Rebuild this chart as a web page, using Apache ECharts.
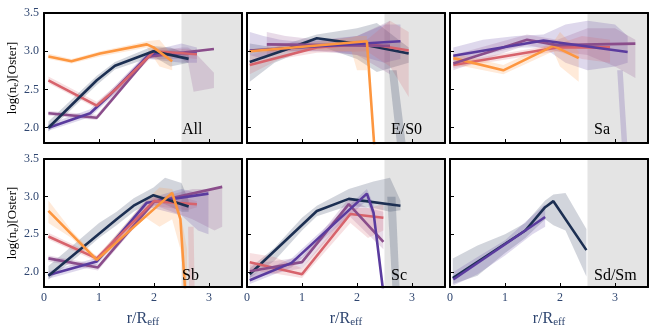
<!DOCTYPE html>
<html>
<head>
<meta charset="utf-8">
<script src="https://cdn.jsdelivr.net/npm/echarts@6/dist/echarts.min.js"></script>
<style>
  html, body { margin: 0; padding: 0; background: #fff; }
  #chart { width: 654px; height: 329px; }
</style>
</head>
<body>
<div id="chart"></div>
<script>
// panel names, in reading order
const panels = ['All', 'E/S0', 'Sa', 'Sb', 'Sc', 'Sd/Sm'];
const xTicks = [0, 1, 2, 3];
const yTicks = [2.0, 2.5, 3.0, 3.5];

// lines: [x, log ne]    bands: [x, low, high]
// --- All
const allNavy = [[0.08, 2.0], [0.96, 2.62], [1.29, 2.81], [1.99, 3.0], [2.63, 2.9]];
const allNavyBand = [[0.08, 1.95, 2.08], [0.96, 2.56, 2.68], [1.29, 2.76, 2.86], [1.99, 2.93, 3.07], [2.3, 2.8, 3.05], [2.63, 2.85, 2.96]];
const allOrange = [[0.08, 2.93], [0.5, 2.87], [1.02, 2.97], [1.87, 3.09], [1.99, 3.05], [2.33, 2.87]];
const allOrangeBand = [[0.08, 2.9, 2.97], [0.5, 2.84, 2.9], [1.02, 2.93, 3.0], [1.87, 3.05, 3.13], [2.1, 2.8, 3.15], [2.33, 2.75, 2.95]];
const allSalmon = [[0.08, 2.62], [0.96, 2.29], [1.3, 2.5], [2.0, 3.0], [2.78, 2.96]];
const allSalmonBand = [[0.08, 2.58, 2.67], [0.96, 2.25, 2.34], [1.3, 2.45, 2.55], [2.0, 2.95, 3.05], [2.78, 2.9, 3.02]];
const allPurple = [[0.08, 2.0], [0.84, 2.19], [1.2, 2.43], [1.9, 2.95], [2.1, 2.98], [2.78, 2.97]];
const allPurpleBand = [[0.08, 1.96, 2.05], [0.84, 2.14, 2.24], [1.2, 2.38, 2.48], [1.9, 2.9, 3.0], [2.5, 2.85, 3.1], [2.78, 2.85, 3.05]];
const allPlum = [[0.08, 2.19], [0.96, 2.13], [1.9, 2.93], [3.09, 3.03]];
const allPlumBand = [[0.08, 2.16, 2.22], [0.96, 2.1, 2.17], [1.9, 2.9, 2.97], [2.5, 2.9, 3.05], [2.62, 2.85, 3.05], [2.72, 2.47, 3.0], [3.09, 2.52, 2.72]];
// --- E/S0
const esNavy = [[0.05, 2.86], [0.7, 3.02], [1.27, 3.17], [2.18, 3.08], [2.94, 2.97]];
const esNavyBand = [[0.05, 2.6, 3.1], [0.5, 2.85, 3.05], [1.27, 3.08, 3.22], [2.0, 2.9, 3.3], [2.36, 2.73, 3.37], [2.94, 2.85, 3.05]];
const esNavyStreak = [[2.58, 2.75], [2.72, 2.75], [2.9, 1.7], [2.74, 1.7]];
const esOrange = [[0.05, 3.0], [2.18, 3.13], [2.33, 1.6]];
const esOrangeBand = [[0.05, 2.97, 3.03], [1.0, 3.02, 3.1], [1.9, 3.0, 3.18], [2.0, 2.75, 3.2], [2.18, 2.75, 3.2]];
const esSalmon = [[0.05, 2.82], [1.27, 3.05], [2.18, 3.1], [2.94, 3.01]];
const esSalmonBand = [[0.05, 2.7, 2.95], [0.6, 2.9, 3.05], [1.27, 2.98, 3.1], [2.18, 3.0, 3.15], [2.6, 2.8, 3.4], [2.94, 2.4, 3.25]];
const esPurple = [[0.05, 3.01], [2.79, 3.13]];
const esPurpleBand = [[0.05, 2.95, 3.25], [0.3, 2.9, 3.2], [0.6, 3.0, 3.15], [1.0, 3.0, 3.12], [1.5, 3.0, 3.15], [2.0, 2.95, 3.2], [2.5, 2.85, 3.35], [2.79, 2.9, 3.35]];
const esPlum = [[0.36, 3.09], [1.5, 3.08], [2.6, 3.07]];
const esPlumBand = [[0.36, 2.95, 3.25], [0.7, 3.0, 3.2], [1.3, 3.0, 3.15], [2.0, 2.95, 3.2], [2.6, 2.7, 3.4]];
// --- Sa
const saPurple = [[0.06, 2.94], [1.7, 3.14], [3.23, 2.99]];
const saPurpleBand = [[0.06, 2.85, 3.05], [0.6, 2.95, 3.15], [1.2, 3.05, 3.2], [1.7, 3.05, 3.22], [2.1, 2.85, 3.35], [2.5, 2.75, 3.4], [3.0, 2.8, 3.35], [3.23, 2.85, 3.2]];
const saPurpleStreak = [[3.04, 2.75], [3.14, 2.75], [3.23, 1.7], [3.13, 1.7]];
const saPlum = [[0.06, 2.84], [1.4, 3.15], [1.95, 3.08], [3.37, 3.1]];
const saPlumBand = [[0.06, 2.75, 2.95], [1.4, 3.08, 3.22], [1.95, 3.0, 3.15], [2.5, 2.95, 3.3], [3.0, 2.8, 3.3], [3.37, 2.65, 3.15]];
const saSalmon = [[0.06, 2.82], [1.95, 3.05], [2.91, 3.05]];
const saSalmonBand = [[0.06, 2.78, 2.86], [1.95, 3.0, 3.09], [2.4, 2.9, 3.2], [2.91, 2.85, 3.15]];
const saOrange = [[0.06, 2.91], [0.97, 2.75], [1.88, 3.07], [2.34, 2.91]];
const saOrangeBand = [[0.06, 2.83, 2.97], [0.97, 2.7, 2.82], [1.88, 3.0, 3.12], [2.0, 2.8, 3.25], [2.34, 2.6, 3.0]];
// --- Sb
const sbNavy = [[0.08, 1.95], [1.32, 2.7], [1.63, 2.88], [1.99, 3.02], [2.63, 2.87]];
const sbNavyBand = [[0.08, 1.9, 2.08], [0.6, 2.2, 2.4], [1.0, 2.45, 2.65], [1.32, 2.62, 2.8], [1.63, 2.8, 2.98], [1.99, 2.95, 3.12], [2.2, 2.9, 3.25], [2.5, 2.8, 3.18], [2.63, 2.8, 2.95]];
const sbOrange = [[0.08, 2.81], [0.96, 2.16], [2.33, 3.05], [2.48, 2.7], [2.58, 1.6]];
const sbOrangeBand = [[0.08, 2.65, 2.95], [0.5, 2.45, 2.55], [0.96, 2.12, 2.2], [1.85, 2.72, 2.95], [2.1, 2.6, 3.12], [2.33, 2.7, 3.1], [2.48, 2.3, 2.8], [2.6, 1.6, 2.3]];
const sbSalmon = [[0.08, 2.47], [0.96, 2.18], [2.0, 2.94], [2.78, 2.9]];
const sbSalmonBand = [[0.08, 2.43, 2.52], [0.96, 2.14, 2.22], [2.0, 2.88, 3.0], [2.6, 2.82, 2.98], [2.78, 2.86, 2.94]];
const sbSalmonStreak = [[2.62, 2.6], [2.72, 2.6], [2.74, 1.7], [2.64, 1.7]];
const sbPurple = [[0.08, 1.96], [0.96, 2.14], [1.87, 2.92], [2.99, 3.04]];
const sbPurpleBand = [[0.08, 1.91, 2.01], [0.96, 2.09, 2.19], [1.87, 2.87, 2.97], [2.5, 2.75, 3.1], [2.8, 2.55, 3.05], [2.99, 2.5, 3.08]];
const sbPlum = [[0.08, 2.18], [0.98, 2.06], [2.0, 2.93], [3.24, 3.13]];
const sbPlumBand = [[0.08, 2.14, 2.22], [0.98, 2.02, 2.1], [2.0, 2.89, 2.97], [2.7, 2.7, 3.1], [3.1, 2.55, 3.1], [3.24, 2.6, 3.15]];
// --- Sc
const scNavy = [[0.05, 1.97], [1.27, 2.81], [1.85, 2.97], [2.79, 2.88]];
const scNavyBand = [[0.05, 1.92, 2.05], [0.5, 2.15, 2.32], [1.0, 2.55, 2.72], [1.27, 2.74, 2.88], [1.85, 2.88, 3.1], [2.3, 2.85, 3.2], [2.6, 2.8, 3.25], [2.79, 2.82, 2.95]];
const scNavyStreak = [[2.55, 3.0], [2.7, 3.0], [2.78, 1.7], [2.65, 1.7]];
const scPurple = [[0.05, 1.89], [0.81, 2.12], [2.18, 3.04], [2.3, 2.79], [2.5, 1.6]];
const scPurpleBand = [[0.05, 1.84, 1.95], [0.81, 2.06, 2.18], [2.18, 2.95, 3.1], [2.3, 2.7, 2.9]];
const scPlum = [[0.05, 2.01], [1.0, 2.13], [1.85, 2.9], [2.48, 2.4]];
const scPlumBand = [[0.05, 1.92, 2.1], [1.0, 2.05, 2.2], [1.85, 2.75, 2.98], [2.2, 2.5, 2.85], [2.48, 2.3, 2.8]];
const scSalmon = [[0.05, 2.13], [1.0, 1.97], [1.88, 2.77], [2.48, 2.72]];
const scSalmonBand = [[0.05, 2.02, 2.25], [0.5, 1.98, 2.2], [1.0, 1.92, 2.05], [1.88, 2.65, 2.85], [2.2, 2.45, 2.85], [2.48, 2.55, 2.9]];
// --- Sd/Sm
const sdNavy = [[0.05, 1.92], [1.37, 2.55], [1.73, 2.86], [1.88, 2.94], [2.48, 2.29]];
const sdNavyBand = [[0.05, 1.84, 2.18], [0.5, 1.95, 2.35], [1.0, 2.25, 2.5], [1.37, 2.45, 2.65], [1.73, 2.7, 2.95], [1.88, 2.62, 3.03], [2.1, 2.55, 3.05], [2.48, 1.94, 2.57]];
const sdPurple = [[0.06, 1.9], [1.73, 2.73]];
const sdPurpleBand = [[0.06, 1.82, 2.0], [0.5, 1.97, 2.2], [1.0, 2.22, 2.42], [1.5, 2.5, 2.75], [1.73, 2.6, 2.9]];

const NAVY = '#1c2f52', ORANGE = '#fd963f', SALMON = '#d7636c', PURPLE = '#5a3b9e', PLUM = '#8a4d8b';
const SERIF = '"Liberation Serif", "DejaVu Serif", serif';
const LABEL = '#2f4670';

// per panel: [band, colour], [line, colour], streak polygons
const panelData = [
  { bands: [[allPlumBand, PLUM], [allSalmonBand, SALMON], [allPurpleBand, PURPLE], [allNavyBand, NAVY], [allOrangeBand, ORANGE]],
    lines: [[allPlum, PLUM], [allPurple, PURPLE], [allSalmon, SALMON], [allNavy, NAVY], [allOrange, ORANGE]], streaks: [] },
  { bands: [[esNavyBand, NAVY], [esPurpleBand, PURPLE], [esPlumBand, PLUM], [esSalmonBand, SALMON], [esOrangeBand, ORANGE]],
    lines: [[esNavy, NAVY], [esSalmon, SALMON], [esPlum, PLUM], [esPurple, PURPLE], [esOrange, ORANGE]], streaks: [[esNavyStreak, NAVY]] },
  { bands: [[saPurpleBand, PURPLE], [saPlumBand, PLUM], [saSalmonBand, SALMON], [saOrangeBand, ORANGE]],
    lines: [[saSalmon, SALMON], [saOrange, ORANGE], [saPlum, PLUM], [saPurple, PURPLE]], streaks: [[saPurpleStreak, PURPLE]] },
  { bands: [[sbNavyBand, NAVY], [sbOrangeBand, ORANGE], [sbSalmonBand, SALMON], [sbPurpleBand, PURPLE], [sbPlumBand, PLUM]],
    lines: [[sbPlum, PLUM], [sbPurple, PURPLE], [sbSalmon, SALMON], [sbNavy, NAVY], [sbOrange, ORANGE]], streaks: [[sbSalmonStreak, SALMON]] },
  { bands: [[scNavyBand, NAVY], [scPurpleBand, PURPLE], [scPlumBand, PLUM], [scSalmonBand, SALMON]],
    lines: [[scNavy, NAVY], [scSalmon, SALMON], [scPlum, PLUM], [scPurple, PURPLE]], streaks: [[scNavyStreak, NAVY]] },
  { bands: [[sdNavyBand, NAVY], [sdPurpleBand, PURPLE]],
    lines: [[sdNavy, NAVY], [sdPurple, PURPLE]], streaks: [] }
];

const lefts = [44, 247, 450];
const tops = [13, 159];
const W = 198, H = 130;

const grids = [], xAxes = [], yAxes = [], series = [], graphics = [];

function polySeries(gi, verts, color, opacity, z) {
  return {
    type: 'custom', xAxisIndex: 2 * gi, yAxisIndex: 2 * gi, z: z, silent: true,
    data: [0],
    renderItem: function (params, api) {
      const cs = params.coordSys;
      return {
        type: 'polygon',
        shape: { points: verts.map(v => api.coord(v)) },
        style: { fill: color, opacity: opacity },
        clipPath: { type: 'rect', shape: { x: cs.x, y: cs.y, width: cs.width, height: cs.height } }
      };
    }
  };
}
function bandVerts(b) {
  return b.map(p => [p[0], p[1]]).concat(b.slice().reverse().map(p => [p[0], p[2]]));
}

panels.forEach((name, i) => {
  const col = i % 3, row = Math.floor(i / 3);
  grids.push({ left: lefts[col], top: tops[row], width: W, height: H });
  const bottomRow = row === 1, leftCol = col === 0;
  xAxes.push({
    type: 'value', gridIndex: i, min: 0, max: 3.6, interval: 1, z: 10,
    axisLine: { onZero: false, lineStyle: { color: '#000', width: 2 } },
    axisTick: { inside: true, length: 4, lineStyle: { color: '#000', width: 1 } },
    axisLabel: { show: bottomRow, color: LABEL, fontFamily: SERIF, fontSize: 12, margin: 5,
      formatter: v => (xTicks.indexOf(v) >= 0 ? String(v) : '') },
    splitLine: { show: false },
    name: bottomRow ? 'r/R{s|eff}' : '', nameLocation: 'middle', nameGap: 22,
    nameTextStyle: { color: LABEL, fontFamily: SERIF, fontSize: 16, rich: { s: { fontFamily: SERIF, fontSize: 11, color: LABEL, padding: [8, 0, 0, 0] } } }
  });
  xAxes.push({
    type: 'value', gridIndex: i, min: 0, max: 3.6, position: 'top', z: 10,
    axisLine: { onZero: false, lineStyle: { color: '#000', width: 2 } },
    axisTick: { show: false }, axisLabel: { show: false }, splitLine: { show: false }
  });
  yAxes.push({
    type: 'value', gridIndex: i, min: 1.8, max: 3.5, z: 10,
    axisLine: { show: true, onZero: false, lineStyle: { color: '#000', width: 2 } },
    axisTick: { inside: true, length: 4, customValues: yTicks, lineStyle: { color: '#000', width: 1 } },
    axisLabel: { show: leftCol, customValues: yTicks, color: LABEL, fontFamily: SERIF, fontSize: 12, margin: 5,
      formatter: v => v.toFixed(1) },
    splitLine: { show: false },
    name: leftCol ? 'log(n{s|e})[Oster]' : '', nameLocation: 'middle', nameGap: 24,
    nameTextStyle: { color: '#000', fontFamily: SERIF, fontSize: 13, rich: { s: { fontFamily: SERIF, fontSize: 9, color: '#000', padding: [6, 0, 0, 0] } } }
  });
  yAxes.push({
    type: 'value', gridIndex: i, min: 1.8, max: 3.5, position: 'right', z: 10,
    axisLine: { show: true, onZero: false, lineStyle: { color: '#000', width: 2 } },
    axisTick: { show: false }, axisLabel: { show: false }, splitLine: { show: false }
  });

  // shaded outer region r > 2.5 Reff
  series.push(polySeries(i, bandVerts([[2.5, 1.8, 3.5], [3.6, 1.8, 3.5]]), '#e4e4e4', 1, 1));
  const pd = panelData[i];
  pd.bands.forEach(b => series.push(polySeries(i, bandVerts(b[0]), b[1], 0.2, 2)));
  pd.streaks.forEach(s => series.push(polySeries(i, s[0], s[1], 0.22, 2)));
  pd.lines.forEach(l => series.push({
    type: 'line', xAxisIndex: 2 * i, yAxisIndex: 2 * i, data: l[0], z: 3,
    symbol: 'none', silent: true, clip: true,
    lineStyle: { color: l[1], width: 2.6 }
  }));

  graphics.push({
    type: 'text', left: lefts[col] + (i % 3 === 0 ? 138 : 144), top: tops[row] + 109, z: 20,
    style: { text: name, font: '16px ' + SERIF, fill: '#000' }
  });
});

const chart = echarts.init(document.getElementById('chart'));
chart.setOption({
  animation: false,
  backgroundColor: '#fff',
  grid: grids,
  xAxis: xAxes,
  yAxis: yAxes,
  series: series,
  graphic: graphics
});
</script>
</body>
</html>
